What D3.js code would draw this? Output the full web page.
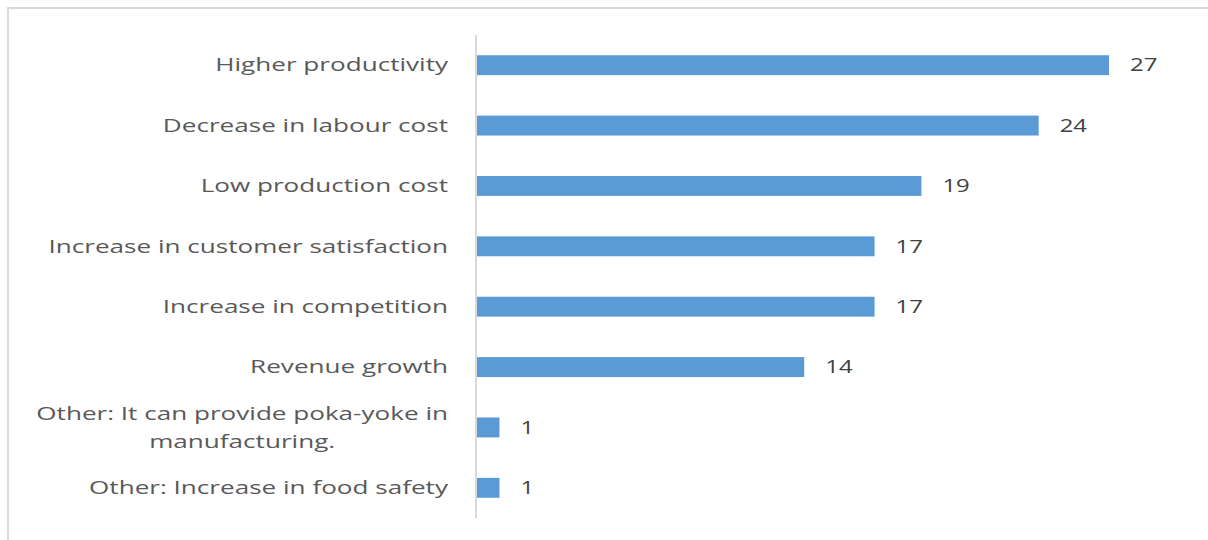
<!DOCTYPE html>
<html>
<head>
<meta charset="utf-8">
<script src="https://cdn.jsdelivr.net/npm/d3@7"></script>
<style>
  html, body { margin: 0; padding: 0; background: #fff; }
  svg { display: block; }
  .cat { font-family: "Open Sans", sans-serif; font-size: 18px; fill: #595959; }
  .val { font-family: "Open Sans", sans-serif; font-size: 18px; fill: #404040; }
</style>
</head>
<body>
<div id="chart"></div>
<script>
// barras horizontais: beneficios citados
const categories = [
  "Higher productivity",
  "Decrease in labour cost",
  "Low production cost",
  "Increase in customer satisfaction",
  "Increase in competition",
  "Revenue growth",
  "Other: It can provide poka-yoke in\nmanufacturing.",
  "Other: Increase in food safety",
];
const counts = [27, 24, 19, 17, 17, 14, 1, 1];

const W = 1208, H = 540;
const axisX = 476, plotTop = 35, plotBottom = 518;
const stretch = 1.45; // texto do original aparece esticado na horizontal

const svg = d3.select("#chart").append("svg").attr("width", W).attr("height", H);

// moldura cortada (so topo e esquerda aparecem)
svg.append("rect")
  .attr("x", 8).attr("y", 8)
  .attr("width", W + 20).attr("height", H + 20)
  .attr("fill", "none").attr("stroke", "#d9d9d9").attr("stroke-width", 2);

const x = d3.scaleLinear().domain([0, 27]).range([axisX, 1109]);
const y = d3.scaleBand().domain(categories).range([plotTop, plotBottom]).paddingInner(0.67).paddingOuter(0.335);

svg.append("g")
  .selectAll("rect")
  .data(categories)
  .join("rect")
  .attr("x", x(0))
  .attr("y", (d) => y(d))
  .attr("width", (d, i) => x(counts[i]) - x(0))
  .attr("height", y.bandwidth())
  .attr("fill", "#5b9bd5");

svg.append("line")
  .attr("x1", axisX).attr("x2", axisX)
  .attr("y1", plotTop).attr("y2", plotBottom)
  .attr("stroke", "#d9d9d9").attr("stroke-width", 2);

function putText(g, cls, tx, ty, anchor, str, sx) {
  return g.append("text").attr("class", cls)
    .attr("transform", `translate(${tx},${ty}) scale(${sx},1)`)
    .attr("dy", "0.35em")
    .attr("text-anchor", anchor)
    .text(str);
}

const vals = svg.append("g");
categories.forEach((c, i) => {
  putText(vals, "val", x(counts[i]) + 21, y(c) + y.bandwidth() / 2, "start", counts[i], 1.33);
});

const labels = svg.append("g");
categories.forEach((c) => {
  const cy = y(c) + y.bandwidth() / 2;
  const lines = c.split("\n");
  if (lines.length === 1) {
    putText(labels, "cat", 448, cy, "end", c, stretch);
  } else {
    const first = putText(labels, "cat", 448, cy - 14, "end", lines[0], stretch);
    const w = first.node().getComputedTextLength() * stretch;
    putText(labels, "cat", 448 - w / 2, cy + 14, "middle", lines[1], stretch);
  }
});
</script>
</body>
</html>
